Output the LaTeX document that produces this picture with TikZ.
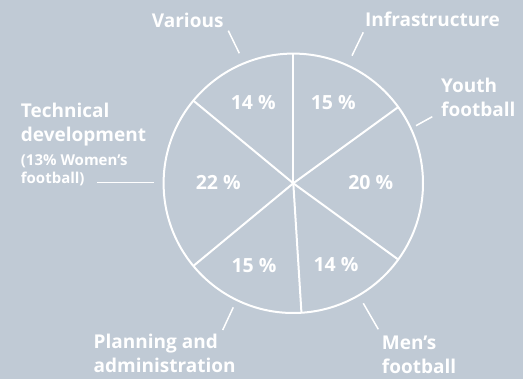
\documentclass[tikz,border=0pt]{standalone}
\usepackage{fontspec}
\setsansfont{Open Sans}
\usepackage{xcolor}
\usepackage{tikz}
\usetikzlibrary{calc}
\definecolor{pieback}{RGB}{192,202,213}
\tikzset{
	pct/.style={text=white, inner sep=0pt, font=\sffamily\bfseries\fontsize{19.5}{24}\selectfont},
	lbl/.style={text=white, inner sep=0pt, anchor=base west, align=left, font=\sffamily\bfseries\fontsize{19}{24}\selectfont},
	smalllbl/.style={lbl, font=\sffamily\bfseries\fontsize{15}{17.6}\selectfont},
	tick/.style={draw=white, line width=1.5pt},
	rim/.style={draw=white, line width=2pt}
}

\begin{document}
\begin{tikzpicture}[x=1pt, y=1pt]
			\fill[pieback] (0,0) rectangle (523,379);
			\useasboundingbox (0,0) rectangle (523,379);

			\coordinate (c) at (293.3,195.7);
			\draw[rim] (c) circle (129.7);
			\foreach \a in {90,36,-36,-86.4,-140.4,140.4}
				\draw[rim] (c) -- ($(c)+(\a:129.7)$);

			\node[pct] (p1) at (333.3,276.7) {15 \%};
			\node[pct] (p2) at (370.7,196.7) {20 \%};
			\node[pct] (p3) at (336,114) {14 \%};
			\node[pct] (p4) at (254,113.3) {15 \%};
			\node[pct] (p5) at (218.3,196.7) {22 \%};
			\node[pct] (p6) at (253.3,276.7) {14 \%};

			% multi-line labels sit on the baseline of their last line
			\node[lbl] (infra) at (365,352.3) {Infrastructure};
			\node[lbl] (youth) at (441,262.3) {Youth\\football};
			\node[lbl] (men) at (381.7,5) {Men’s\\football};
			\node[lbl] (plan) at (93.5,6.2) {Planning and\\administration};
			\node[lbl] (tech) at (20.7,237.3) {Technical\\development};
			\node[smalllbl] (women) at (20.7,195.7) {(13\% Women’s\\football)};
			\node[lbl] (various) at (151.7,351.3) {Various};

			% ticks between labels and rim
			\coordinate (t1a) at (363.3,346.7); \coordinate (t1b) at (352,323.3);
			\coordinate (t2a) at (432.3,262.3); \coordinate (t2b) at (416,253.3);
			\coordinate (t3a) at (363.3,75.7);  \coordinate (t3b) at (378.3,49.7);
			\coordinate (t4a) at (233.3,71.7);  \coordinate (t4b) at (222.7,49);
			\coordinate (t5a) at (96.7,196.7);  \coordinate (t5b) at (154.3,196.7);
			\coordinate (t6a) at (228.3,348.3); \coordinate (t6b) at (239.3,325.7);
			\foreach \t in {1,...,6}
				\draw[tick] (t\t a) -- (t\t b);
		\end{tikzpicture}
\end{document}
